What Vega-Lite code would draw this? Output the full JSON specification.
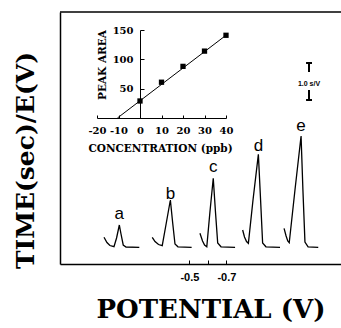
{
  "$schema": "https://vega.github.io/schema/vega-lite/v6.json",
  "width": 281,
  "height": 252,
  "autosize": {"type": "none"},
  "padding": {"left": 60, "top": 12, "right": 0, "bottom": 64},
  "background": "white",
  "config": {
    "view": {"stroke": null},
    "axis": {"grid": false, "domainColor": "black", "tickColor": "black", "labelColor": "black", "titleColor": "black"}
  },
  "datasets": {
    "traces": [
      {"t": "a", "i": 1, "E": -0.038, "s": 26.7},
      {"t": "a", "i": 2, "E": -0.054, "s": 21.5},
      {"t": "a", "i": 3, "E": -0.070, "s": 18.5},
      {"t": "a", "i": 4, "E": -0.092, "s": 17.3},
      {"t": "a", "i": 5, "E": -0.106, "s": 26},
      {"t": "a", "i": 6, "E": -0.121, "s": 39},
      {"t": "a", "i": 7, "E": -0.130, "s": 30},
      {"t": "a", "i": 8, "E": -0.142, "s": 19},
      {"t": "a", "i": 9, "E": -0.157, "s": 17},
      {"t": "a", "i": 10, "E": -0.229, "s": 16.7},
      {"t": "b", "i": 1, "E": -0.299, "s": 26.7},
      {"t": "b", "i": 2, "E": -0.314, "s": 22.5},
      {"t": "b", "i": 3, "E": -0.333, "s": 19.5},
      {"t": "b", "i": 4, "E": -0.353, "s": 18.3},
      {"t": "b", "i": 5, "E": -0.373, "s": 39},
      {"t": "b", "i": 6, "E": -0.397, "s": 64},
      {"t": "b", "i": 7, "E": -0.409, "s": 42},
      {"t": "b", "i": 8, "E": -0.422, "s": 20},
      {"t": "b", "i": 9, "E": -0.438, "s": 17.2},
      {"t": "b", "i": 10, "E": -0.512, "s": 16.7},
      {"t": "c", "i": 1, "E": -0.557, "s": 30.7},
      {"t": "c", "i": 2, "E": -0.571, "s": 23},
      {"t": "c", "i": 3, "E": -0.582, "s": 19},
      {"t": "c", "i": 4, "E": -0.594, "s": 17.3},
      {"t": "c", "i": 5, "E": -0.611, "s": 52},
      {"t": "c", "i": 6, "E": -0.629, "s": 85.7},
      {"t": "c", "i": 7, "E": -0.641, "s": 52},
      {"t": "c", "i": 8, "E": -0.653, "s": 21},
      {"t": "c", "i": 9, "E": -0.671, "s": 17.2},
      {"t": "c", "i": 10, "E": -0.747, "s": 16.7},
      {"t": "d", "i": 1, "E": -0.788, "s": 34},
      {"t": "d", "i": 2, "E": -0.798, "s": 27},
      {"t": "d", "i": 3, "E": -0.809, "s": 22.5},
      {"t": "d", "i": 4, "E": -0.819, "s": 20.7},
      {"t": "d", "i": 5, "E": -0.844, "s": 64},
      {"t": "d", "i": 6, "E": -0.873, "s": 109.7},
      {"t": "d", "i": 7, "E": -0.885, "s": 64},
      {"t": "d", "i": 8, "E": -0.896, "s": 21},
      {"t": "d", "i": 9, "E": -0.914, "s": 17.2},
      {"t": "d", "i": 10, "E": -0.990, "s": 16.7},
      {"t": "e", "i": 1, "E": -1.012, "s": 35.7},
      {"t": "e", "i": 2, "E": -1.023, "s": 28},
      {"t": "e", "i": 3, "E": -1.032, "s": 23},
      {"t": "e", "i": 4, "E": -1.040, "s": 21.3},
      {"t": "e", "i": 5, "E": -1.071, "s": 74},
      {"t": "e", "i": 6, "E": -1.104, "s": 128},
      {"t": "e", "i": 7, "E": -1.114, "s": 74},
      {"t": "e", "i": 8, "E": -1.125, "s": 22},
      {"t": "e", "i": 9, "E": -1.142, "s": 17.2},
      {"t": "e", "i": 10, "E": -1.197, "s": 16.7}
    ],
    "peaklabels": [
      {"lab": "a", "E": -0.121, "s": 45},
      {"lab": "b", "E": -0.397, "s": 65},
      {"lab": "c", "E": -0.629, "s": 92},
      {"lab": "d", "E": -0.873, "s": 113},
      {"lab": "e", "E": -1.104, "s": 133}
    ],
    "frame": [
      {"E": 0.2, "E2": -1.32, "s": 252, "s2": 252}
    ],
    "scalebar": [
      {"E": -1.147, "E2": -1.147, "s": 192, "s2": 201},
      {"E": -1.131, "E2": -1.163, "s": 201, "s2": 201},
      {"E": -1.147, "E2": -1.147, "s": 164, "s2": 174},
      {"E": -1.131, "E2": -1.163, "s": 164, "s2": 164}
    ],
    "scaletext": [
      {"txt": "1.0 s/V", "E": -1.147, "s": 178}
    ],
    "calib": [
      {"conc": 0, "area": 29},
      {"conc": 10, "area": 61},
      {"conc": 20, "area": 88},
      {"conc": 30, "area": 114},
      {"conc": 40, "area": 141}
    ],
    "fit": [
      {"conc": -10.5, "area": 0},
      {"conc": 40, "area": 141}
    ]
  },
  "layer": [
    {
      "layer": [
        {
          "data": {"name": "traces"},
          "mark": {"type": "line", "color": "black", "strokeWidth": 1.3},
          "encoding": {
            "x": {
              "field": "E", "type": "quantitative",
              "scale": {"domain": [0.2, -1.32], "nice": false, "zero": false},
              "axis": {
                "orient": "bottom",
                "values": [-0.5, -0.6, -0.7],
                "labelExpr": "datum.value < -0.65 ? '-0.7' : (datum.value > -0.55 ? '-0.5' : '')",
                "tickSize": -4,
                "domainWidth": 1.5,
                "labelFont": "Liberation Sans",
                "labelFontWeight": "bold",
                "labelFontSize": 11,
                "labelPadding": 11,
                "labelFlush": false,
                "labelOverlap": false,
                "title": "POTENTIAL (V)",
                "titleFont": "DejaVu Serif",
                "titleFontWeight": "bold",
                "titleFontSize": 26,
                "titleX": 150.5,
                "titleY": 53,
                "titleAlign": "center",
                "titleBaseline": "alphabetic"
              }
            },
            "y": {
              "field": "s", "type": "quantitative",
              "scale": {"domain": [0, 252], "nice": false, "zero": false},
              "axis": {
                "orient": "left",
                "ticks": false,
                "labels": false,
                "domainWidth": 1.5,
                "title": "TIME(sec)/E(V)",
                "titleFont": "DejaVu Serif",
                "titleFontWeight": "bold",
                "titleFontSize": 25,
                "titleAngle": -90,
                "titleX": -27,
                "titleY": 148,
                "titleAlign": "center",
                "titleBaseline": "alphabetic"
              }
            },
            "detail": {"field": "t", "type": "nominal"},
            "order": {"field": "i", "type": "quantitative"}
          }
        },
        {
          "data": {"name": "peaklabels"},
          "mark": {"type": "text", "font": "Liberation Sans", "fontSize": 17, "color": "black", "align": "center", "baseline": "alphabetic"},
          "encoding": {
            "x": {"field": "E", "type": "quantitative"},
            "y": {"field": "s", "type": "quantitative"},
            "text": {"field": "lab", "type": "nominal"}
          }
        },
        {
          "data": {"name": "frame"},
          "mark": {"type": "rule", "color": "black", "strokeWidth": 1.5},
          "encoding": {
            "x": {"field": "E", "type": "quantitative"},
            "x2": {"field": "E2"},
            "y": {"field": "s", "type": "quantitative"},
            "y2": {"field": "s2"}
          }
        },
        {
          "data": {"name": "scalebar"},
          "mark": {"type": "rule", "color": "black", "strokeWidth": 2},
          "encoding": {
            "x": {"field": "E", "type": "quantitative"},
            "x2": {"field": "E2"},
            "y": {"field": "s", "type": "quantitative"},
            "y2": {"field": "s2"}
          }
        },
        {
          "data": {"name": "scaletext"},
          "mark": {"type": "text", "font": "Liberation Sans", "fontWeight": "bold", "fontSize": 7, "color": "black", "align": "center", "baseline": "alphabetic"},
          "encoding": {
            "x": {"field": "E", "type": "quantitative"},
            "y": {"field": "s", "type": "quantitative"},
            "text": {"field": "txt", "type": "nominal"}
          }
        }
      ]
    },
    {
      "layer": [
        {
          "data": {"name": "fit"},
          "mark": {"type": "line", "color": "black", "strokeWidth": 1},
          "encoding": {
            "x": {
              "field": "conc", "type": "quantitative",
              "scale": {"domain": [-20, 40], "range": [37, 166], "nice": false, "zero": false},
              "axis": {
                "orient": "bottom",
                "offset": -146,
                "values": [-20, -15, -10, -5, 0, 5, 10, 15, 20, 25, 30, 35, 40],
                "labelExpr": "datum.value % 10 == 0 ? (datum.value < 0 ? '-' : '') + abs(datum.value) : ''",
                "tickSize": -3,
                "labelFont": "DejaVu Serif",
                "labelFontWeight": "bold",
                "labelFontSize": 10,
                "labelPadding": 10,
                "labelFlush": false,
                "labelOverlap": false,
                "title": "CONCENTRATION (ppb)",
                "titleFont": "DejaVu Serif",
                "titleFontWeight": "bold",
                "titleFontSize": 10.5,
                "titleX": 100,
                "titleY": 33,
                "titleAlign": "center",
                "titleBaseline": "alphabetic"
              }
            },
            "y": {
              "field": "area", "type": "quantitative",
              "scale": {"domain": [0, 150], "range": [106, 18], "nice": false, "zero": false},
              "axis": {
                "orient": "left",
                "offset": -80,
                "values": [50, 100, 150],
                "tickSize": -4,
                "labelFont": "DejaVu Serif",
                "labelFontWeight": "bold",
                "labelFontSize": 10,
                "labelPadding": 11,
                "labelFlush": false,
                "labelOverlap": false,
                "title": "PEAK AREA",
                "titleFont": "DejaVu Serif",
                "titleFontWeight": "bold",
                "titleFontSize": 10.5,
                "titleAngle": -90,
                "titleX": -35,
                "titleY": 52.5,
                "titleAlign": "center",
                "titleBaseline": "alphabetic"
              }
            }
          }
        },
        {
          "data": {"name": "calib"},
          "mark": {"type": "point", "shape": "square", "filled": true, "color": "black", "size": 28, "opacity": 1},
          "encoding": {
            "x": {"field": "conc", "type": "quantitative"},
            "y": {"field": "area", "type": "quantitative"}
          }
        }
      ]
    }
  ],
  "resolve": {
    "scale": {"x": "independent", "y": "independent"},
    "axis": {"x": "independent", "y": "independent"}
  }
}
